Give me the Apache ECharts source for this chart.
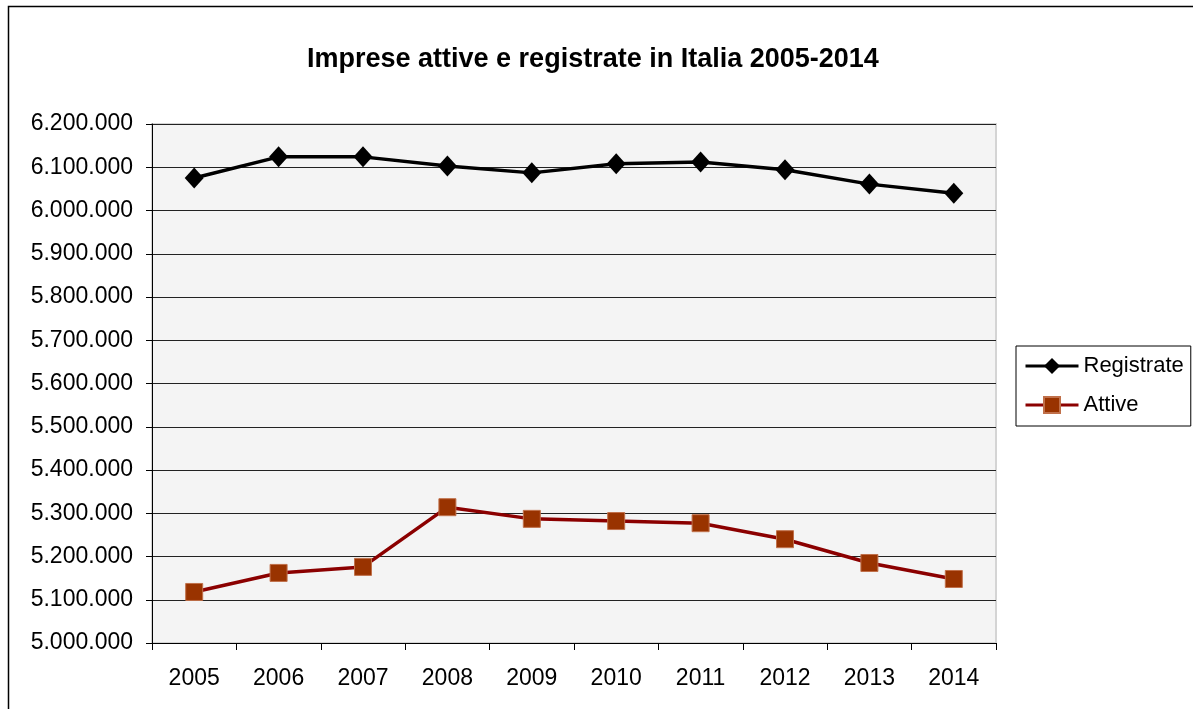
<!DOCTYPE html>
<html>
<head>
<meta charset="utf-8">
<script src="https://cdn.jsdelivr.net/npm/echarts@6/dist/echarts.min.js"></script>
<style>
html,body{margin:0;padding:0;background:#fff;}
#c{width:1193px;height:709px;}
</style>
</head>
<body>
<div id="c"></div>
<script>
const categories = ['2005','2006','2007','2008','2009','2010','2011','2012','2013','2014'];
const registrate = [6075000, 6124000, 6124000, 6103000, 6087000, 6108000, 6112000, 6094000, 6061000, 6040000];
const attive = [5118000, 5162000, 5176000, 5314000, 5287000, 5282000, 5277000, 5240000, 5185000, 5148000];
const titleText = 'Imprese attive e registrate in Italia 2005-2014';

const fmt = v => String(Math.round(v)).replace(/\B(?=(\d{3})+(?!\d))/g, '.');
const font = '"Liberation Sans", Arial, sans-serif';

const chart = echarts.init(document.getElementById('c'));
chart.setOption({
  animation: false,
  backgroundColor: '#fff',
  textStyle: { fontFamily: font },
  graphic: [{
    type: 'rect', silent: true,
    shape: { x: 8.5, y: 6.5, width: 1200, height: 720 },
    style: { fill: 'none', stroke: '#000', lineWidth: 1.5 }
  }],
  title: {
    text: titleText, left: 302, top: 41,
    textStyle: { fontFamily: font, fontSize: 27, fontWeight: 'bold', color: '#000' }
  },
  legend: {
    orient: 'vertical', left: 1016, top: 346,
    padding: [9, 7, 10, 8], itemGap: 17, itemWidth: 53, itemHeight: 20,
    borderColor: '#000', borderWidth: 1, backgroundColor: '#fff',
    textStyle: { fontFamily: font, fontSize: 22, color: '#000' },
    lineStyle: { width: 3 },
    data: ['Registrate', 'Attive']
  },
  grid: {
    left: 152, right: 197, top: 124, bottom: 66,
    show: true, backgroundColor: '#f4f4f4', borderColor: '#d4d4d4', borderWidth: 2,
    containLabel: false
  },
  xAxis: {
    type: 'category', data: categories, boundaryGap: true,
    axisLine: { show: true, lineStyle: { color: '#000', width: 1 } },
    axisTick: { show: true, alignWithLabel: false, length: 7, lineStyle: { color: '#000' } },
    axisLabel: { fontFamily: font, fontSize: 23, color: '#000', margin: 24 },
    splitLine: { show: false }
  },
  yAxis: {
    type: 'value', min: 5000000, max: 6200000, interval: 100000,
    axisLine: { show: true, lineStyle: { color: '#000', width: 1 } },
    axisTick: { show: true, length: 6, lineStyle: { color: '#000' } },
    axisLabel: { fontFamily: font, fontSize: 23, color: '#000', margin: 19, formatter: fmt },
    splitLine: { show: true, lineStyle: { color: '#222', width: 1 } }
  },
  series: [
    {
      name: 'Registrate', type: 'line', data: registrate,
      symbol: 'diamond', symbolSize: [19, 21],
      lineStyle: { color: '#000', width: 3.5 },
      itemStyle: { color: '#000' }
    },
    {
      name: 'Attive', type: 'line', data: attive,
      symbol: 'rect', symbolSize: 17,
      lineStyle: { color: '#8B0000', width: 3.5 },
      itemStyle: { color: '#993300', borderColor: '#c0704a', borderWidth: 1 }
    }
  ]
});
</script>
</body>
</html>
